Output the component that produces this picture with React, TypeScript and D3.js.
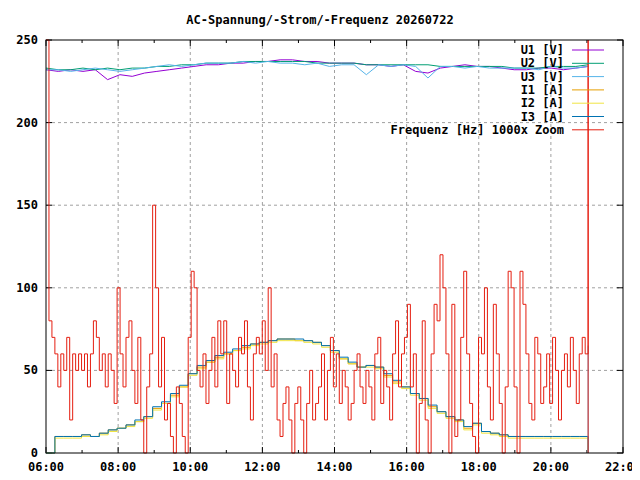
import { useRef, useEffect } from "react";
import * as d3 from "d3";

const TITLE = "AC-Spannung/-Strom/-Frequenz 20260722";

// evenly spaced samples from 06:00 to about 21:02
const freqValues = [
  250, 80, 70, 60, 40, 60, 50, 70, 20, 60, 50, 60,
  50, 60, 40, 60, 80, 70, 50, 60, 40, 60, 50, 30,
  100, 60, 40, 70, 80, 50, 30, 70, 20, 0, 40, 60,
  150, 100, 40, 70, 20, 30, 10, 0, 40, 30, 10, 0,
  70, 110, 100, 50, 40, 60, 30, 50, 70, 40, 80, 60,
  80, 30, 60, 50, 40, 70, 60, 80, 40, 20, 60, 70,
  60, 80, 50, 100, 40, 60, 20, 10, 30, 40, 20, 0,
  30, 40, 20, 0, 30, 50, 20, 30, 40, 60, 20, 50,
  70, 40, 60, 30, 50, 40, 20, 30, 50, 60, 40, 30,
  50, 40, 20, 60, 70, 30, 50, 40, 20, 60, 80, 40,
  60, 70, 90, 40, 60, 0, 30, 80, 20, 0, 60, 90,
  80, 120, 100, 60, 0, 90, 10, 20, 70, 110, 60, 30,
  10, 0, 70, 60, 100, 40, 20, 90, 60, 30, 0, 40,
  110, 100, 40, 0, 110, 90, 60, 30, 20, 70, 60, 30,
  40, 60, 30, 70, 50, 20, 50, 60, 40, 70, 50, 30,
  60, 70, 60, 250,
];

const i1Values = [
  0, 10, 10, 10, 11, 10, 12, 14, 15, 17, 19, 22, 27, 30, 35, 40,
  48, 52, 55, 58, 60, 62, 64, 66, 67, 68, 69, 69, 68, 68, 67, 65,
  62, 57, 54, 52, 53, 52, 47, 43, 40, 36, 33, 28, 25, 22, 20, 15,
  18, 13, 12, 11, 10, 10, 10, 10, 10, 10, 10, 10, 10, 0,
];
const i2Values = [
  0, 9, 9, 9, 10, 10, 11, 13, 15, 16, 19, 21, 26, 30, 34, 40,
  47, 51, 55, 57, 60, 62, 63, 65, 66, 67, 68, 68, 68, 67, 66, 64,
  61, 57, 54, 52, 52, 51, 46, 42, 39, 35, 32, 27, 24, 21, 19, 14,
  17, 12, 11, 10, 9, 9, 9, 9, 9, 9, 9, 9, 9, 0,
];
const i3Values = [
  0, 10, 10, 10, 11, 10, 12, 14, 15, 17, 20, 22, 28, 31, 36, 41,
  48, 53, 56, 59, 61, 63, 65, 66, 67, 68, 69, 69, 69, 68, 67, 65,
  62, 58, 55, 52, 53, 52, 48, 44, 40, 36, 33, 29, 25, 22, 20, 16,
  18, 13, 12, 11, 10, 10, 10, 10, 10, 10, 10, 10, 10, 0,
];

const u1Values = [
  232, 231, 232, 231, 232, 226, 229, 228, 230, 231, 232, 233, 234, 235, 235, 236,
  236, 237, 237, 238, 238, 237, 237, 236, 236, 236, 235, 235, 234, 235, 231, 230,
  233, 234, 235, 234, 234, 233, 232, 232, 233, 233, 232, 233, 234,
];
const u2Values = [
  233, 232, 232, 233, 232, 233, 232, 233, 233, 234, 234, 235, 235, 236, 236, 236,
  237, 237, 237, 237, 237, 237, 236, 236, 236, 236, 235, 235, 235, 235, 235, 235,
  234, 234, 234, 234, 234, 234, 233, 233, 233, 234, 234, 234, 235,
];
const u3Values = [
  232, 232, 231, 232, 233, 232, 231, 232, 233, 234, 235, 234, 235, 236, 236, 236,
  237, 236, 237, 236, 236, 235, 236, 234, 235, 235, 229, 235, 234, 235, 234, 227,
  234, 234, 233, 234, 233, 233, 233, 233, 232, 234, 233, 233, 234,
];

const legendLabels = ["U1 [V]", "U2 [V]", "U3 [V]", "I1 [A]", "I2 [A]", "I3 [A]", "Frequenz [Hz] 1000x Zoom"];
const colors = ["#9400d3", "#009e73", "#56b4e9", "#e69f00", "#f0e442", "#0072b2", "#e51e10"];
const xTickLabels = ["06:00", "08:00", "10:00", "12:00", "14:00", "16:00", "18:00", "20:00", "22:00"];

const END_MIN = 902;
const M = { left: 46, right: 17, top: 40, bottom: 27 };
const W = 640, H = 480;
const FONT = "'DejaVu Sans Mono', monospace";

export default function App() {
  const ref = useRef<SVGSVGElement>(null);
  useEffect(() => {
    const svg = d3.select(ref.current);
    svg.selectAll("*").remove();
    const innerW = W - M.left - M.right;
    const innerH = H - M.top - M.bottom;
    const x = d3.scaleLinear().domain([0, 16 * 60]).range([M.left, M.left + innerW]);
    const y = d3.scaleLinear().domain([0, 250]).range([M.top + innerH, M.top]);

    svg.append("rect").attr("width", W).attr("height", H).attr("fill", "#fff");

    const txt = (tx: number, ty: number, s: string | number, anchor: string) =>
      svg.append("text").attr("x", tx).attr("y", ty).attr("text-anchor", anchor)
        .attr("font-family", FONT).attr("font-size", 12).attr("font-weight", "bold").text(s);

    txt(W / 2, 24, TITLE, "middle");

    const yt = d3.range(0, 251, 50);
    const xt = d3.range(0, 16 * 60 + 1, 120);
    yt.slice(1, -1).forEach((v) => svg.append("line").attr("x1", M.left).attr("x2", M.left + innerW)
      .attr("y1", y(v)).attr("y2", y(v)).attr("stroke", "#a0a0a0").attr("stroke-dasharray", "3,3"));
    xt.slice(1, -1).forEach((v) => svg.append("line").attr("y1", M.top).attr("y2", M.top + innerH)
      .attr("x1", x(v)).attr("x2", x(v)).attr("stroke", "#a0a0a0").attr("stroke-dasharray", "3,3"));

    yt.forEach((v) => {
      svg.append("line").attr("x1", M.left).attr("x2", M.left + 6).attr("y1", y(v)).attr("y2", y(v)).attr("stroke", "#000");
      svg.append("line").attr("x1", M.left + innerW - 6).attr("x2", M.left + innerW).attr("y1", y(v)).attr("y2", y(v)).attr("stroke", "#000");
      txt(M.left - 8, y(v) + 4, v, "end");
    });
    d3.range(0, 16 * 60 + 1, 60).forEach((v, i) => {
      const len = i % 2 === 0 ? 6 : 3;
      svg.append("line").attr("x1", x(v)).attr("x2", x(v)).attr("y1", M.top + innerH).attr("y2", M.top + innerH - len).attr("stroke", "#000");
      svg.append("line").attr("x1", x(v)).attr("x2", x(v)).attr("y1", M.top).attr("y2", M.top + len).attr("stroke", "#000");
    });
    xt.forEach((v, i) => txt(x(v), M.top + innerH + 18, xTickLabels[i], "middle"));

    const tx = (n: number) => (i: number) => x((i / (n - 1)) * END_MIN);
    const draw = (vals: number[], color: string, stepped: boolean) => {
      const px = tx(vals.length);
      const line = d3.line<number>().x((_, i) => px(i)).y((d) => y(d));
      if (stepped) line.curve(d3.curveStepAfter);
      svg.append("path").datum(vals).attr("d", line).attr("fill", "none").attr("stroke", color).attr("stroke-width", 1);
    };
    draw(u1Values, colors[0], false);
    draw(u2Values, colors[1], false);
    draw(u3Values, colors[2], false);
    draw(i1Values, colors[3], true);
    draw(i2Values, colors[4], true);
    draw(i3Values, colors[5], true);
    svg.append("line").attr("x1", x(END_MIN)).attr("x2", x(END_MIN)).attr("y1", y(0)).attr("y2", y(65)).attr("stroke", colors[2]);
    draw(freqValues, colors[6], true);
    svg.append("line").attr("x1", x(END_MIN)).attr("x2", x(END_MIN)).attr("y1", y(0)).attr("y2", y(250)).attr("stroke", colors[6]);

    legendLabels.forEach((lab, i) => {
      const ly = 50 + i * 13.3;
      txt(564, ly + 4, lab, "end");
      svg.append("line").attr("x1", 572).attr("x2", 604).attr("y1", ly).attr("y2", ly).attr("stroke", colors[i]);
    });

    svg.append("rect").attr("x", M.left).attr("y", M.top).attr("width", innerW).attr("height", innerH)
      .attr("fill", "none").attr("stroke", "#000");
  }, []);
  return <svg ref={ref} width={W} height={H} style={{ display: "block", margin: -8 }} />;
}
